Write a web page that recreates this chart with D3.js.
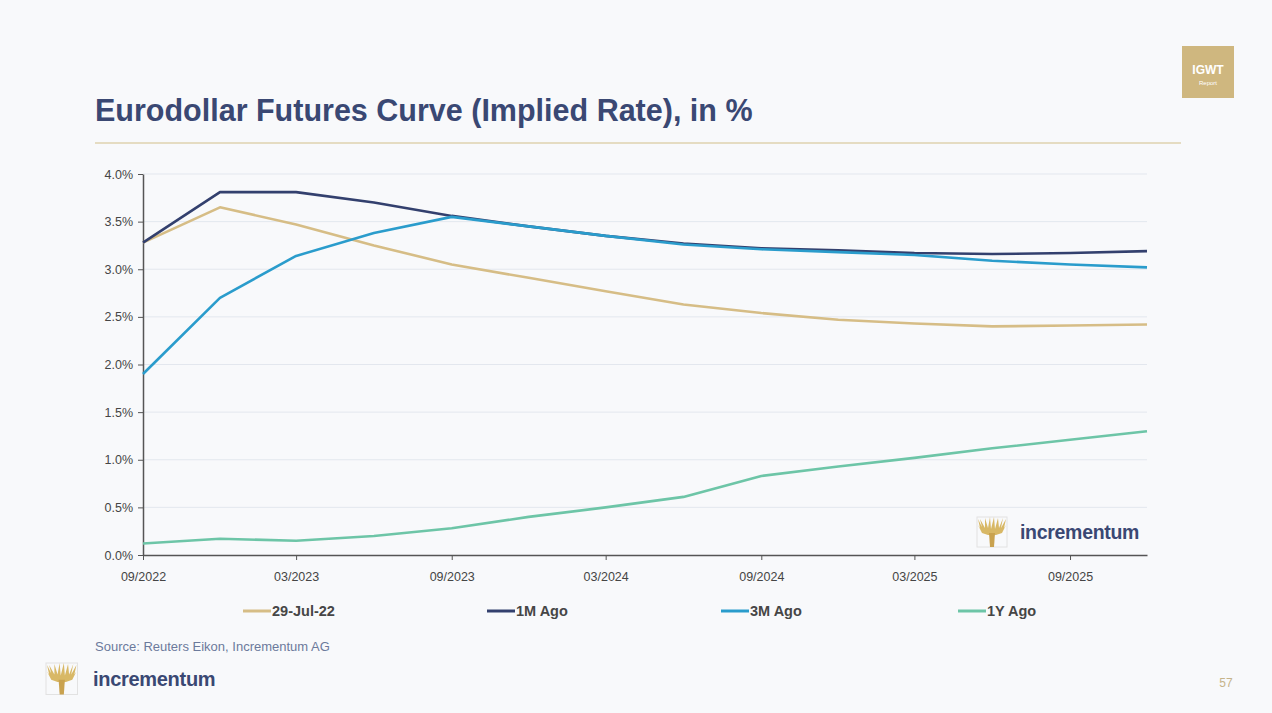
<!DOCTYPE html>
<html>
<head>
<meta charset="utf-8">
<script src="https://cdn.jsdelivr.net/npm/d3@7"></script>
<style>
  body { margin: 0; background: #f8f9fb; }
  svg { display: block; font-family: "Liberation Sans", Arial, sans-serif; }
</style>
</head>
<body>
<div id="chart"></div>
<script>
// Quarterly contract months
const months = ["09/2022", "12/2022", "03/2023", "06/2023", "09/2023", "12/2023", "03/2024",
                "06/2024", "09/2024", "12/2024", "03/2025", "06/2025", "09/2025", "12/2025"];
// Labelled months on the x axis
const tickMonths = ["09/2022", "03/2023", "09/2023", "03/2024", "09/2024", "03/2025", "09/2025"];

// Implied rates in %
const jul29 = [3.28, 3.65, 3.47, 3.25, 3.05, 2.91, 2.77, 2.63, 2.54, 2.47, 2.43, 2.40, 2.41, 2.42];
const ago1M = [3.28, 3.81, 3.81, 3.70, 3.56, 3.45, 3.35, 3.27, 3.22, 3.20, 3.17, 3.16, 3.17, 3.19];
const ago3M = [1.90, 2.70, 3.14, 3.38, 3.55, 3.45, 3.35, 3.26, 3.21, 3.18, 3.15, 3.09, 3.05, 3.02];
const ago1Y = [0.12, 0.17, 0.15, 0.20, 0.28, 0.40, 0.50, 0.61, 0.83, 0.93, 1.02, 1.12, 1.21, 1.30];

const seriesNames = ["29-Jul-22", "1M Ago", "3M Ago", "1Y Ago"];
const seriesColors = ["#d6bd86", "#33406e", "#2a9ccc", "#6dc5a7"];
const yTicks = [0, 0.5, 1, 1.5, 2, 2.5, 3, 3.5, 4];

const parseMonth = d3.timeParse("%m/%Y");
const dates = months.map(parseMonth);
const allSeries = [jul29, ago1M, ago3M, ago1Y].map((vals, i) => ({
    name: seriesNames[i],
    color: seriesColors[i],
    points: vals.map((v, j) => ({ date: dates[j], value: v }))
}));

const W = 1272, H = 713;
const svg = d3.select("#chart").append("svg")
    .attr("width", W)
    .attr("height", H);

svg.append("rect").attr("width", W).attr("height", H).attr("fill", "#f8f9fb");

// Title and rule
svg.append("text")
    .attr("x", 95).attr("y", 121)
    .attr("font-size", 30.5).attr("font-weight", "bold")
    .attr("fill", "#3a4873")
    .text("Eurodollar Futures Curve (Implied Rate), in %");

svg.append("line")
    .attr("x1", 95).attr("x2", 1181)
    .attr("y1", 143).attr("y2", 143)
    .attr("stroke", "#e5dcc2").attr("stroke-width", 2);

// IGWT badge
svg.append("rect")
    .attr("x", 1182).attr("y", 46).attr("width", 52).attr("height", 52)
    .attr("fill", "#cfb77f");
svg.append("text")
    .attr("x", 1208).attr("y", 74).attr("text-anchor", "middle")
    .attr("font-size", 12).attr("font-weight", "bold").attr("fill", "#fff")
    .text("IGWT");
svg.append("text")
    .attr("x", 1208).attr("y", 85).attr("text-anchor", "middle")
    .attr("font-size", 6).attr("fill", "#fff")
    .text("Report");

// Scales
const x = d3.scaleTime()
    .domain(d3.extent(dates))
    .range([143, 1147]);

const y = d3.scaleLinear()
    .domain([0, 4])
    .range([555, 174]);

// Gridlines
svg.append("g")
    .selectAll("line")
    .data(yTicks.filter(t => t > 0))
    .enter().append("line")
    .attr("x1", 143).attr("x2", 1147)
    .attr("y1", d => y(d)).attr("y2", d => y(d))
    .attr("stroke", "#e3e7ee").attr("stroke-width", 1);

// Y axis
const yAxis = svg.append("g")
    .attr("transform", "translate(143,0)")
    .call(d3.axisLeft(y).tickValues(yTicks).tickSize(5).tickSizeOuter(0)
        .tickFormat(d => d.toFixed(1) + "%"));
yAxis.select(".domain").attr("stroke", "#555").attr("stroke-width", 1.5);
yAxis.selectAll(".tick line").attr("stroke", "#555");
yAxis.selectAll("text").attr("font-size", 12.5).attr("fill", "#454545")
    .attr("font-family", "Liberation Sans, Arial, sans-serif").attr("dx", "-2");

// X axis
const xAxis = svg.append("g")
    .attr("transform", "translate(0,555)")
    .call(d3.axisBottom(x).tickValues(tickMonths.map(parseMonth)).tickSize(5).tickSizeOuter(0)
        .tickFormat(d3.timeFormat("%m/%Y")));
xAxis.select(".domain").attr("stroke", "#555").attr("stroke-width", 1.5);
xAxis.selectAll(".tick line").attr("stroke", "#555");
xAxis.selectAll("text").attr("font-size", 12.5).attr("fill", "#454545")
    .attr("font-family", "Liberation Sans, Arial, sans-serif").attr("dy", "1.45em");

// Lines
const line = d3.line()
    .x(d => x(d.date))
    .y(d => y(d.value));

// draw 1Y, 29-Jul, 1M, then 3M on top
[3, 0, 1, 2].forEach(i => {
    svg.append("path")
        .datum(allSeries[i].points)
        .attr("fill", "none")
        .attr("stroke", allSeries[i].color)
        .attr("stroke-width", 2.6)
        .attr("stroke-linejoin", "round")
        .attr("d", line);
});

// Legend
const legendX = [243, 487, 721, 958];
allSeries.forEach((s, i) => {
    svg.append("line")
        .attr("x1", legendX[i]).attr("x2", legendX[i] + 28)
        .attr("y1", 611).attr("y2", 611)
        .attr("stroke", s.color).attr("stroke-width", 3);
    svg.append("text")
        .attr("x", legendX[i] + 29).attr("y", 616)
        .attr("font-size", 14.5).attr("font-weight", "bold").attr("fill", "#464646")
        .text(s.name);
});

// Source
svg.append("text")
    .attr("x", 95).attr("y", 651)
    .attr("font-size", 13).attr("fill", "#6c7a9c")
    .text("Source: Reuters Eikon, Incrementum AG");

// Tree logo helper
function tree(g, x0, y0, s) {
    const t = g.append("g").attr("transform", `translate(${x0},${y0}) scale(${s})`);
    t.append("rect").attr("x", 0).attr("y", 0).attr("width", 30).attr("height", 30)
        .attr("fill", "none").attr("stroke", "#e2e2e2").attr("stroke-width", 1);
    const gold = "#d8b866";
    // crown
    t.append("path")
        .attr("d", "M1,2 L5,10 L3,2 L8,11 L8,1 L11,11 L13,0 L14,12 L17,0 L18,12 L21,1 L22,11 L26,1 L24,11 L29,2 L27,11 L29,8 L25,16 L19,18 L11,18 L5,16 L1,8 L3,11 Z")
        .attr("fill", gold);
    // trunk
    t.append("path")
        .attr("d", "M12,16 L18,16 L17,30 L13,30 Z")
        .attr("fill", "#c9a24f");
}

// Logo inside plot
tree(svg, 977, 517, 1);
svg.append("text")
    .attr("x", 1020).attr("y", 539)
    .attr("font-size", 19.5).attr("font-weight", "bold").attr("fill", "#3a4873")
    .attr("letter-spacing", -0.3)
    .text("incrementum");

// Footer logo
tree(svg, 46, 663, 1.05);
svg.append("text")
    .attr("x", 93).attr("y", 686)
    .attr("font-size", 20).attr("font-weight", "bold").attr("fill", "#3a4873")
    .attr("letter-spacing", -0.3)
    .text("incrementum");

// Page number
svg.append("text")
    .attr("x", 1226).attr("y", 687).attr("text-anchor", "middle")
    .attr("font-size", 12).attr("fill", "#c6b38a")
    .text("57");
</script>
</body>
</html>
